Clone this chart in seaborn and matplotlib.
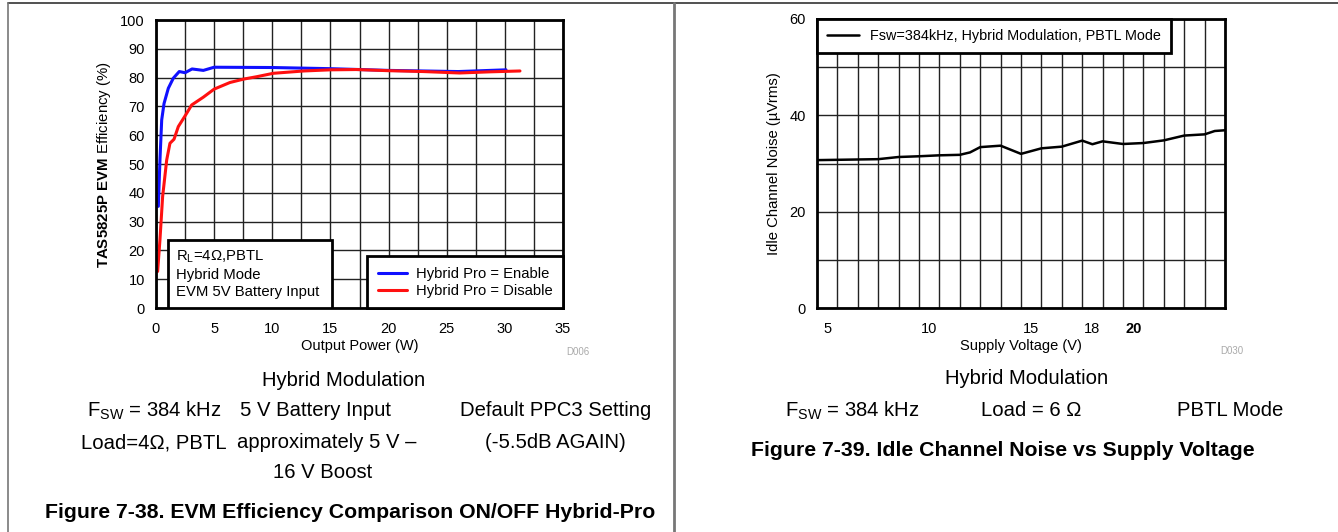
import pandas as pd
import seaborn as sns
import matplotlib.pyplot as plt
from matplotlib.lines import Line2D
from matplotlib.patches import Rectangle

# Fig 7-38: efficiency vs output power
enable_power = [0.2, 0.34, 0.49, 0.69, 1.06, 1.49, 2.0, 2.5, 3.1, 4.07, 5.0, 10.0, 15.0, 20.0, 26.0, 30.1]
enable_eff = [35.3, 51.4, 65.3, 71.0, 76.3, 79.8, 82.1, 81.7, 83.0, 82.5, 83.6, 83.5, 83.1, 82.5, 82.1, 82.7]
disable_power = [0.14, 0.34, 0.57, 0.92, 1.2, 1.55, 1.92, 2.5, 3.07, 4.07, 5.0, 6.36, 7.56, 8.65, 10.1,
                 12.7, 15.0, 17.2, 20.0, 23.0, 26.1, 28.7, 31.3]
disable_eff = [12.7, 23.7, 38.7, 51.4, 57.2, 58.6, 63.0, 66.7, 70.5, 73.2, 76.0, 78.3, 79.5, 80.3, 81.5,
               82.3, 82.7, 82.8, 82.4, 82.1, 81.6, 82.0, 82.3]

# Fig 7-39: idle channel noise vs supply voltage
supply_v = [4.5, 7.5, 8.5, 9.5, 10.5, 11.5, 12.0, 12.5, 13.5, 14.5, 15.5, 16.5, 17.5, 18.0, 18.5,
            19.5, 20.5, 21.5, 22.5, 23.5, 24.0, 24.5]
noise_uv = [30.7, 30.9, 31.35, 31.5, 31.7, 31.8, 32.3, 33.4, 33.7, 32.0, 33.15, 33.5, 34.75, 34.0, 34.6,
            34.05, 34.25, 34.8, 35.8, 36.05, 36.75, 36.9]
noise_ticks = [5, 10, 15, 18, 20]

sns.set_style("white")
plt.rcParams['font.family'] = ['Liberation Sans', 'DejaVu Sans']
plt.rcParams['mathtext.fontset'] = 'custom'
plt.rcParams['mathtext.rm'] = 'Liberation Sans'
plt.rcParams['mathtext.bf'] = 'Liberation Sans:bold'
plt.rcParams['mathtext.it'] = 'Liberation Sans:italic'
for k in ['text.color', 'axes.labelcolor', 'xtick.color', 'ytick.color']:
    plt.rcParams[k] = 'black'

fig = plt.figure(figsize=(13.38, 5.32), dpi=100)

# panel frame lines
fig.add_artist(Line2D([8 / 1338, 1], [1 - 3 / 532, 1 - 3 / 532], color='#333333', lw=1.2))
fig.add_artist(Line2D([8 / 1338, 8 / 1338], [0, 1 - 3 / 532], color='#777777', lw=1.2))
fig.add_artist(Line2D([674 / 1338, 674 / 1338], [0, 1 - 3 / 532], color='#777777', lw=2))

ax1 = fig.add_axes([156 / 1338, 1 - 308 / 532, 407 / 1338, 288 / 532])
ax2 = fig.add_axes([817 / 1338, 1 - 308 / 532, 408 / 1338, 289 / 532])

'''
Left: efficiency
'''
df1 = pd.concat([
    pd.DataFrame({"power": enable_power, "eff": enable_eff, "mode": "Hybrid Pro = Enable"}),
    pd.DataFrame({"power": disable_power, "eff": disable_eff, "mode": "Hybrid Pro = Disable"}),
])
sns.lineplot(data=df1, x="power", y="eff", hue="mode", palette=["#1010ff", "#ff1010"],
             linewidth=2.2, sort=False, estimator=None, ax=ax1)
ax1.set_xlim(0, 35)
ax1.set_ylim(0, 100)
ax1.set_xticks(range(0, 36, 5))
ax1.set_xticks([x + 2.5 for x in range(0, 35, 5)], minor=True)
ax1.set_yticks(range(0, 101, 10))
ax1.grid(True, which='both', color='#222222', lw=1.0)
ax1.set_axisbelow(True)
ax1.tick_params(which='both', length=0, labelsize=10.5, pad=8)
ax1.tick_params(axis='x', pad=10)
for s in ax1.spines.values():
    s.set_color('black')
    s.set_linewidth(2)
ax1.set_xlabel("Output Power (W)", fontsize=10.5, labelpad=2)
ax1.set_ylabel(r"$\bf{TAS5825P\ EVM}$ Efficiency (%)", fontsize=10.8, labelpad=5)
leg = ax1.legend(loc='lower right', borderaxespad=0, fancybox=False, framealpha=1,
                 edgecolor='black', fontsize=10.6, handlelength=2.0, handletextpad=0.6,
                 borderpad=0.7, labelspacing=0.2, title=None)
leg.get_frame().set_linewidth(2)
ax1.add_patch(Rectangle((1.03, 0), 14.1, 23.6, facecolor='white', edgecolor='black', lw=2, zorder=3))
ax1.text(1.7, 17.8, r"R$_\mathrm{L}$=4Ω,PBTL", fontsize=10.7, va='center', zorder=4)
ax1.text(1.7, 11.5, "Hybrid Mode", fontsize=10.7, va='center', zorder=4)
ax1.text(1.7, 5.6, "EVM 5V Battery Input", fontsize=10.7, va='center', zorder=4)
fig.text(578 / 1338, 1 - 352 / 532, "D006", fontsize=7, color='#aaaaaa', ha='center', va='center')

'''
Right: idle channel noise
'''
df2 = pd.DataFrame({"v": supply_v, "noise": noise_uv})
sns.lineplot(data=df2, x="v", y="noise", color='black', linewidth=1.8,
             label="Fsw=384kHz, Hybrid Modulation, PBTL Mode", ax=ax2)
ax2.set_xlim(4.5, 24.5)
ax2.set_ylim(0, 60)
ax2.set_xticks(noise_ticks)
ax2.set_xticks([x + 0.5 for x in range(5, 24)], minor=True)
ax2.set_yticks([0, 20, 40, 60])
ax2.set_yticks([10, 30, 50], minor=True)
ax2.grid(False, which='major', axis='x')
ax2.grid(True, which='minor', axis='x', color='#222222', lw=1.0)
ax2.grid(True, which='both', axis='y', color='#222222', lw=1.0)
ax2.set_axisbelow(True)
ax2.tick_params(which='both', length=0, labelsize=10.5, pad=8)
ax2.tick_params(axis='x', pad=10)
for s in ax2.spines.values():
    s.set_color('black')
    s.set_linewidth(2)
ax2.get_xticklabels()[-1].set_fontweight('bold')
ax2.set_xlabel("Supply Voltage (V)", fontsize=10.5, labelpad=2)
ax2.set_ylabel("Idle Channel Noise (µVrms)", fontsize=10.7, labelpad=6)
leg2 = ax2.legend(loc='upper left', borderaxespad=0, fancybox=False, framealpha=1,
                  edgecolor='black', fontsize=10.4, handlelength=2.2, borderpad=0.7)
leg2.get_frame().set_linewidth(2)
fig.text(1232 / 1338, 1 - 351 / 532, "D030", fontsize=7, color='#aaaaaa', ha='center', va='center')

'''
Captions and notes
'''
def ft(x, y, s, **kw):
    kw.setdefault('fontsize', 14.6)
    fig.text(x / 1338, 1 - y / 532, s, ha='center', va='center', **kw)

ft(344, 381, "Hybrid Modulation")
ft(154, 411, r"F$_\mathrm{SW}$ = 384 kHz")
ft(316, 411, "5 V Battery Input")
ft(556, 411, "Default PPC3 Setting")
ft(154, 443, "Load=4Ω, PBTL")
ft(327, 443, "approximately 5 V –")
ft(555, 443, "(-5.5dB AGAIN)")
ft(323, 473, "16 V Boost")
ft(350, 512, "Figure 7-38. EVM Efficiency Comparison ON/OFF Hybrid-Pro", fontweight='bold', fontsize=15.3)

ft(1027, 378, "Hybrid Modulation")
ft(852, 411, r"F$_\mathrm{SW}$ = 384 kHz")
ft(1031, 411, "Load = 6 Ω")
ft(1230, 411, "PBTL Mode")
ft(1003, 450, "Figure 7-39. Idle Channel Noise vs Supply Voltage", fontweight='bold', fontsize=15.3)

plt.savefig("out.png", dpi=100)
